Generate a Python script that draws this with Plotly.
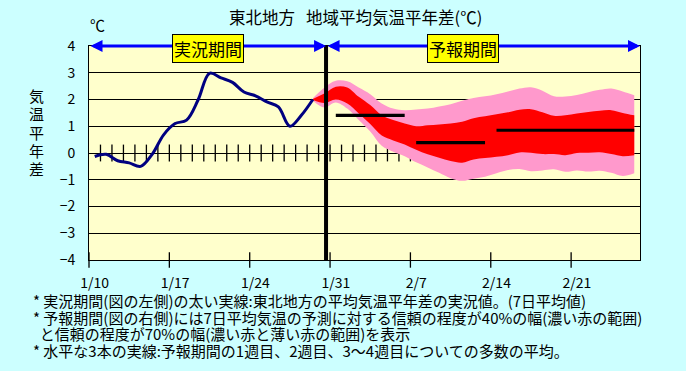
import plotly.graph_objects as go

# ---------------- data ----------------
tick_labels = ["1/10", "1/17", "1/24", "1/31", "2/7", "2/14", "2/21"]
n_days = 48                      # 1/10 .. 2/26, one category per day

# observed 7-day mean anomaly, 1/10 .. 1/29
observed = [-0.13, -0.05, -0.29, -0.37, -0.5, -0.05, 0.68, 1.1, 1.23, 1.98,
            2.98, 2.81, 2.64, 2.28, 2.14, 1.91, 1.72, 1.0, 1.41, 2.0]

# forecast bands, 1/29 .. 2/26
fc_start = 19
outer_hi = [2.05, 2.44, 2.7, 2.68, 2.45, 2.2, 1.85, 1.66, 1.6, 1.63, 1.66, 1.74,
            1.82, 1.95, 2.06, 2.12, 2.2, 2.3, 2.41, 2.46, 2.33, 2.12, 2.11, 2.17,
            2.27, 2.36, 2.41, 2.3, 2.16]
inner_hi = [2.02, 2.22, 2.48, 2.45, 2.1, 1.79, 1.41, 1.23, 1.1, 1.0, 1.04, 1.07,
            1.1, 1.17, 1.3, 1.37, 1.45, 1.52, 1.62, 1.64, 1.52, 1.39, 1.41, 1.48,
            1.53, 1.58, 1.6, 1.5, 1.41]
inner_lo = [1.98, 1.87, 2.0, 1.85, 1.48, 1.08, 0.65, 0.47, 0.32, 0.12, -0.05, -0.18,
            -0.3, -0.36, -0.24, -0.19, -0.14, -0.08, 0.02, 0.01, -0.04, -0.04, -0.08,
            0.0, 0.01, 0.03, -0.04, -0.12, -0.08]
outer_lo = [1.95, 1.7, 1.89, 1.66, 1.23, 0.8, 0.27, 0.05, -0.12, -0.35, -0.54, -0.74,
            -0.94, -1.04, -0.96, -0.89, -0.76, -0.64, -0.6, -0.68, -0.65, -0.61, -0.7,
            -0.65, -0.69, -0.66, -0.74, -0.86, -0.76]

# weekly ensemble means: (first day index, last day index, value)
week_starts = [21, 28, 35]
week_ends = [27, 34, 47]
week_means = [1.41, 0.39, 0.85]

split_x = 20.65   # boundary between observation and forecast periods

notes = [
    "* 実況期間(図の左側)の太い実線:東北地方の平均気温平年差の実況値。(7日平均値)",
    "* 予報期間(図の右側)には7日平均気温の予測に対する信頼の程度が40%の幅(濃い赤の範囲)",
    "  と信頼の程度が70%の幅(濃い赤と薄い赤の範囲)を表示",
    "* 水平な3本の実線:予報期間の1週目、2週目、3～4週目についての多数の平均。",
]

# ---------------- figure ----------------
FONT = "Noto Sans CJK JP"
fig = go.Figure()

# daily tick marks crossing the zero line
fig.add_trace(go.Scatter(
    x=list(range(1, n_days)), y=[0] * (n_days - 1), mode="markers",
    marker=dict(symbol="line-ns", size=12, line=dict(color="black", width=1.3)),
    hoverinfo="skip", showlegend=False))

fc_x = [fc_start + i + 0.5 for i in range(len(outer_hi))]

# 70% band (pink)
fig.add_trace(go.Scatter(x=fc_x, y=outer_lo, mode="lines",
                         line=dict(width=0, shape="spline", color="#FF99CC"),
                         showlegend=False, hoverinfo="skip"))
fig.add_trace(go.Scatter(x=fc_x, y=outer_hi, mode="lines", fill="tonexty",
                         fillcolor="#FF99CC",
                         line=dict(width=0, shape="spline", color="#FF99CC"),
                         showlegend=False, hoverinfo="skip"))
# 40% band (red)
fig.add_trace(go.Scatter(x=fc_x, y=inner_lo, mode="lines",
                         line=dict(width=0, shape="spline", color="#FF0000"),
                         showlegend=False, hoverinfo="skip"))
fig.add_trace(go.Scatter(x=fc_x, y=inner_hi, mode="lines", fill="tonexty",
                         fillcolor="#FF0000",
                         line=dict(width=0, shape="spline", color="#FF0000"),
                         showlegend=False, hoverinfo="skip"))

# weekly means
for s, e, v in zip(week_starts, week_ends, week_means):
    fig.add_trace(go.Scatter(x=[s + 0.5, e + 0.5], y=[v, v], mode="lines",
                             line=dict(color="black", width=3.2),
                             showlegend=False, hoverinfo="skip"))

# observed line
fig.add_trace(go.Scatter(x=[i + 0.5 for i in range(len(observed))], y=observed,
                         mode="lines",
                         line=dict(color="#000080", width=3, shape="spline"),
                         showlegend=False, hoverinfo="skip"))

# weekly tick marks on the bottom axis (cross style)
fig.add_trace(go.Scatter(
    x=[7 * i for i in range(len(tick_labels))], y=[-4] * len(tick_labels),
    mode="markers", cliponaxis=False,
    marker=dict(symbol="line-ns", size=11, line=dict(color="black", width=1.3)),
    hoverinfo="skip", showlegend=False))

# thick divider
fig.add_shape(type="line", x0=split_x, x1=split_x, y0=-4, y1=4, xref="x", yref="y",
              line=dict(color="black", width=4), layer="above")

annotations = []
# period arrows
for a, b in [(0, split_x), (split_x, n_days)]:
    annotations.append(dict(x=b, y=4, ax=a, ay=4, xref="x", yref="y", axref="x",
                            ayref="y", text="", showarrow=True, arrowhead=2,
                            startarrowhead=2, arrowside="end+start", arrowwidth=3,
                            arrowsize=0.8, startarrowsize=0.8, arrowcolor="#0000FF"))
# period labels
for txt, xc in [("実況期間", split_x / 2), ("予報期間", 32.6)]:
    annotations.append(dict(x=xc, y=4, xref="x", yref="y", text=txt, showarrow=False,
                            xanchor="center", yanchor="middle",
                            font=dict(family=FONT, size=17, color="black"),
                            bgcolor="#FFFF00", bordercolor="black", borderwidth=1,
                            borderpad=1, yshift=-2))

L, R, T, B = 89, 640, 46, 260
def px(xp):
    return (xp - L) / (R - L)
def py(yp):
    return (B - yp) / (B - T)

def txt_ann(x, y, text, size, xanchor="center", **kw):
    return dict(x=px(x), y=py(y), xref="paper", yref="paper", text=text,
                showarrow=False, xanchor=xanchor, yanchor="middle",
                font=dict(family=FONT, size=size, color="black"), **kw)

annotations.append(txt_ann(355, 17, "東北地方&nbsp;&nbsp;&nbsp;地域平均気温平年差(℃)", 16.5))
annotations.append(txt_ann(97, 24, "℃", 15))
for i, ch in enumerate("気温平年差"):
    annotations.append(txt_ann(37, 95.5 + 18.3 * i, ch, 15))

# notes: one text block, 16.5px line pitch (1.3 x 12.7) with 15px glyphs
notes_text = "<br>".join(
    '<span style="font-size:15px">' + n.replace(" ", "&nbsp;") + "</span>" for n in notes)
annotations.append(txt_ann(31, 325, notes_text, 12.7, "left", align="left"))

fig.update_layout(
    width=686, height=371, autosize=False,
    margin=dict(l=L, r=686 - R, t=T, b=371 - B),
    paper_bgcolor="#CCFFFF", plot_bgcolor="#FFFFCC",
    font=dict(family=FONT, size=14, color="black"),
    annotations=annotations,
    xaxis=dict(range=[0, n_days], tickvals=[7 * i + 0.5 for i in range(len(tick_labels))],
               ticktext=tick_labels, ticks="", showgrid=False, zeroline=False,
               showline=True, linecolor="black", linewidth=1, mirror=True,
               ticklabelstandoff=10, tickfont=dict(size=14)),
    yaxis=dict(range=[-4, 4], dtick=1, tick0=0, ticks="", showgrid=True,
               gridcolor="black", gridwidth=1, zeroline=True, zerolinecolor="black",
               zerolinewidth=1, showline=True, linecolor="black", linewidth=1,
               mirror=True, ticklabelstandoff=10, tickfont=dict(size=14)),
)

fig.write_html("out.html", config={"displayModeBar": False},
               post_script="document.body.style.margin='0';document.body.style.padding='0';")
